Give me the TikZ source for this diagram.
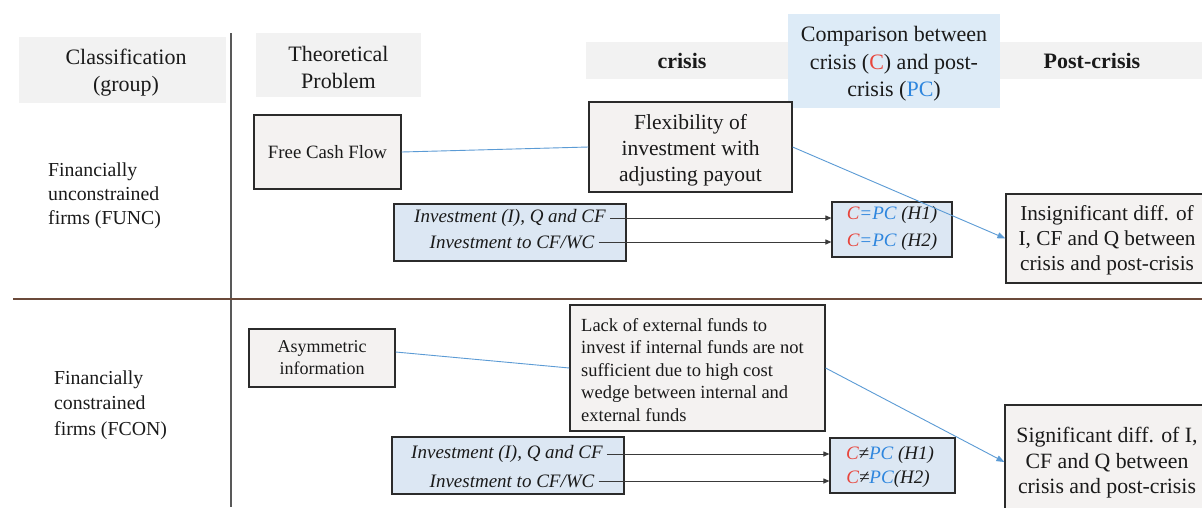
\documentclass[tikz,border=0pt]{standalone}
\usepackage{fontspec}
\setmainfont{Liberation Serif}
\usetikzlibrary{arrows.meta}
\definecolor{cred}{HTML}{E8453C}
\definecolor{cblue}{HTML}{2E86DE}
\definecolor{bandgray}{HTML}{F2F2F2}
\definecolor{boxgray}{HTML}{F4F2F1}
\definecolor{boxblue}{HTML}{DCE7F3}
\definecolor{cmpblue}{HTML}{DDEBF7}
\definecolor{boxline}{HTML}{2B2B2B}
\definecolor{linkblue}{HTML}{5B9BD5}
\definecolor{arrgray}{HTML}{3A3A3A}
\definecolor{hline}{HTML}{6B4A3A}
\definecolor{vline}{HTML}{595959}
\definecolor{txt}{HTML}{1A1A1A}
\begin{document}
\begin{tikzpicture}[x=1pt,y=-1pt,
  every node/.style={text=txt},
  band/.style={fill=bandgray, inner sep=0pt},
  hdr/.style={inner sep=0pt, align=center, font=\fontsize{22}{27}\selectfont},
  box/.style={draw=boxline, line width=1.2pt, fill=boxgray, inner sep=0pt, align=center},
  bbox/.style={box, fill=boxblue},
  itline/.style={inner sep=4pt, font=\fontsize{19}{24}\selectfont\itshape},
  cline/.style={inner sep=0pt, font=\fontsize{19}{24}\selectfont\itshape},
  link/.style={draw=linkblue, line width=0.9pt},
  linkarr/.style={link, -{Triangle[length=8pt,width=6pt]}},
  arr/.style={draw=arrgray, line width=1pt, -{Triangle[length=6pt,width=5pt]}}
]
\clip (0,0) rectangle (1202,507);
\fill[white] (0,0) rectangle (1202,507);

% header bands
\node[band, minimum width=207pt, minimum height=66pt] (bclass) at (122.5,70) {};
\node[hdr] (hclass) at (126,73) {Classification\\(group)};
\node[band, minimum width=165pt, minimum height=64pt] (btheo) at (338.5,65) {};
\node[hdr] (htheo) at (338.5,67) {Theoretical\\Problem};
\node[band, minimum width=616pt, minimum height=37pt] (hband) at (894,60.5) {};
\node[font=\fontsize{22}{27}\selectfont\bfseries, inner sep=0pt] (hcrisis) at (682,61) {crisis};
\node[font=\fontsize{22}{27}\selectfont\bfseries, inner sep=0pt] (hpost) at (1092,61) {Post-crisis};
\node[fill=cmpblue, inner sep=0pt, minimum width=212pt, minimum height=94pt] (hcmp) at (894,61) {};
\node[hdr, font=\fontsize{22}{27.5}\selectfont] (hcmpt) at (894,64)
  {Comparison between\\crisis ({\color{cred}C}) and post-\\crisis ({\color{cblue}PC})};

% grid lines
\coordinate (vtop) at (231,33);
\coordinate (vbot) at (231,507);
\draw[vline, line width=1.3pt] (vtop) -- (vbot);
\coordinate (hl) at (13,299);
\coordinate (hr) at (1202,299);
\draw[hline, line width=1.3pt] (hl) -- (hr);

% FUNC
\node[anchor=west, align=left, inner sep=0pt, font=\fontsize{19.8}{24}\selectfont] (func) at (48,196)
  {Financially\\unconstrained\\firms (FUNC)};
\node[box, minimum width=147pt, minimum height=74pt, font=\fontsize{18.8}{24}\selectfont] (fcf) at (327.5,152) {Free Cash Flow};
\node[box, minimum width=203pt, minimum height=90pt] (flex) at (690.5,147) {};
\node[inner sep=0pt, align=center, font=\fontsize{21.5}{26}\selectfont] (flext) at (690.5,150)
  {Flexibility of\\investment with\\adjusting payout};
\node[bbox, minimum width=232pt, minimum height=57pt] (inv1) at (510,232.5) {};
\node[itline] (i1a) at (510,218) {Investment (I), Q and CF};
\node[itline] (i1b) at (512,242) {Investment to CF/WC};
\node[bbox, minimum width=120pt, minimum height=55pt] (cpc) at (892,229.5) {};
\node[cline] (c1a) at (892,215) {{\color{cred}C}{\color{cblue}=PC} (H1)};
\node[cline] (c1b) at (892,242) {{\color{cred}C}{\color{cblue}=PC} (H2)};
\node[box, minimum width=210pt, minimum height=89pt] (insig) at (1111,238.5) {};
\node[inner sep=0pt, align=center, font=\fontsize{21.3}{25}\selectfont] (insigt) at (1107,240)
  {Insignificant diff. of\\I, CF and Q between\\crisis and post-crisis};

\draw[link] (fcf.east) -- (flex.west);
\draw[linkarr] (flex.east) -- (insig.west);
\draw[arr] (i1a.east) -- (i1a.east -| cpc.west);
\draw[arr] (i1b.east) -- (i1b.east -| cpc.west);

% FCON
\node[anchor=west, align=left, inner sep=0pt, font=\fontsize{19.8}{25.5}\selectfont] (fcon) at (54,405)
  {Financially\\constrained\\firms (FCON)};
\node[box, minimum width=146pt, minimum height=58pt, font=\fontsize{18}{22}\selectfont] (asym) at (322,358)
  {Asymmetric\\information};
\node[box, minimum width=255pt, minimum height=126pt] (lack) at (697.5,368) {};
\node[anchor=west, align=left, inner sep=0pt, font=\fontsize{18.5}{22.5}\selectfont] (lackt) at (581,370)
  {Lack of external funds to\\invest if internal funds are not\\sufficient due to high cost\\wedge between internal and\\external funds};
\node[bbox, minimum width=232pt, minimum height=57pt] (inv2) at (508,465.5) {};
\node[itline] (i2a) at (507,454) {Investment (I), Q and CF};
\node[itline] (i2b) at (512,481) {Investment to CF/WC};
\node[bbox, minimum width=125pt, minimum height=55pt] (cnpc) at (892.5,465.5) {};
\node[cline] (c2a) at (890,455) {{\color{cred}C}≠{\color{cblue}PC} (H1)};
\node[cline] (c2b) at (888,479) {{\color{cred}C}≠{\color{cblue}PC}(H2)};
\node[box, minimum width=210pt, minimum height=114pt] (sig) at (1110,462) {};
\node[inner sep=0pt, align=center, font=\fontsize{21.8}{25.5}\selectfont] (sigt) at (1107,463)
  {Significant diff. of I,\\CF and Q between\\crisis and post-crisis};

\draw[link] ([yshift=6pt]asym.east) -- (lack.west);
\draw[linkarr] (lack.east) -- (sig.west);
\draw[arr] (i2a.east) -- (i2a.east -| cnpc.west);
\draw[arr] (i2b.east) -- (i2b.east -| cnpc.west);
\end{tikzpicture}
\end{document}
